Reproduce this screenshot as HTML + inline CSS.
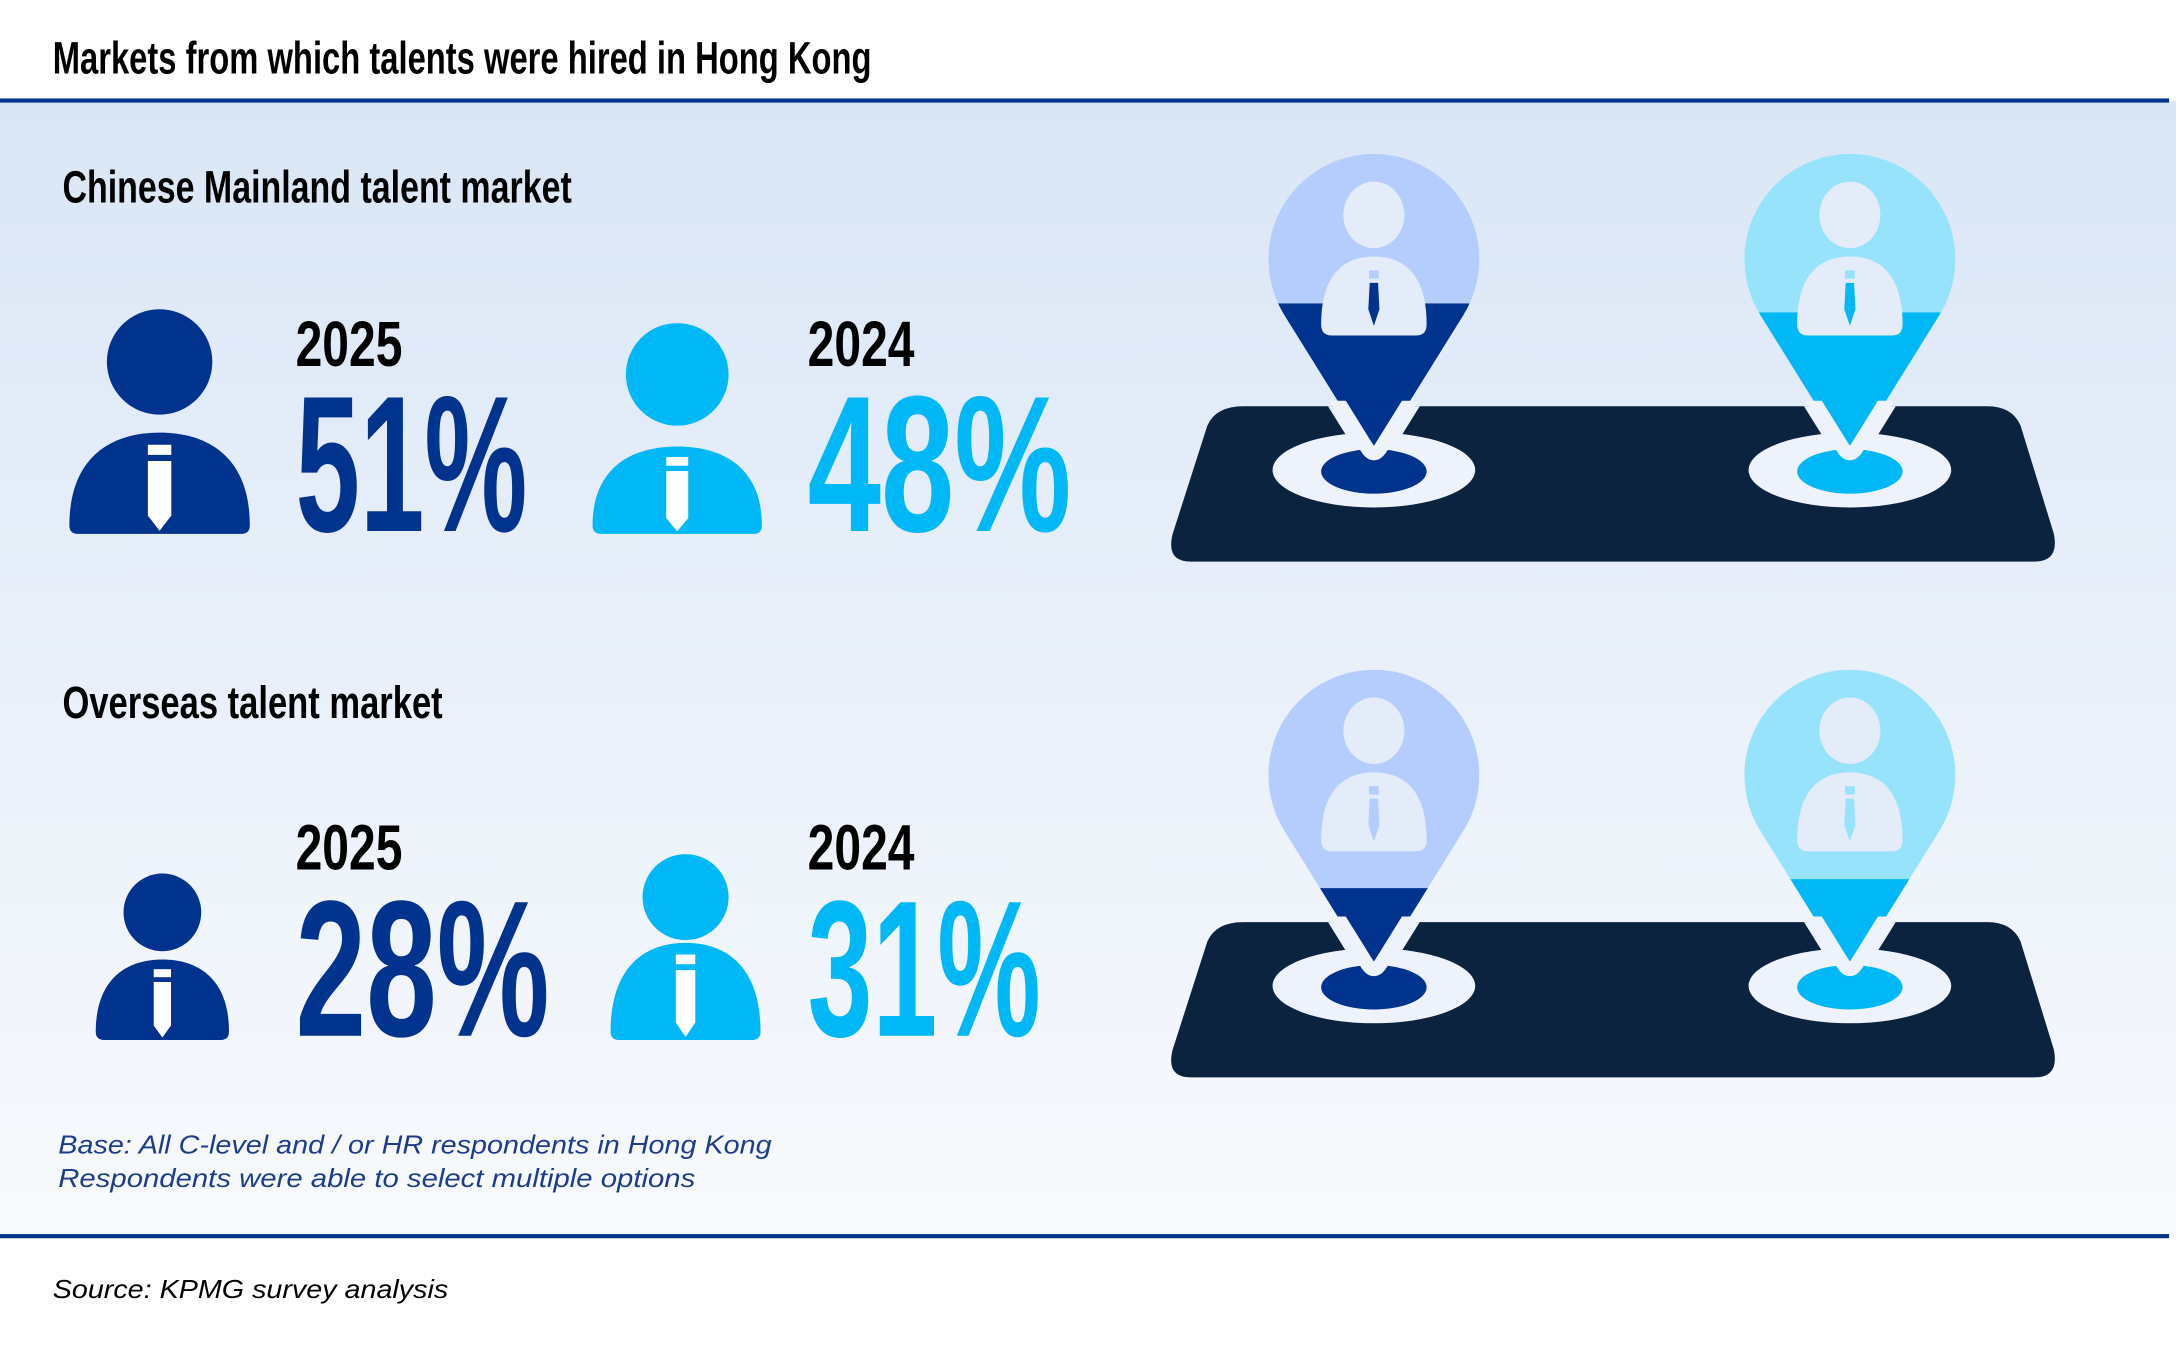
<!DOCTYPE html>
<html><head><meta charset="utf-8"><style>
html,body{margin:0;padding:0;background:#fff;}
svg{display:block;}
text{font-family:"Liberation Sans Narrow","Liberation Sans",sans-serif;font-weight:bold;}
.it{font-family:"Liberation Sans",sans-serif;font-style:italic;font-weight:normal;}
</style></head><body>
<svg id="chart" width="2176" height="1345" viewBox="0 0 1568 970" preserveAspectRatio="none" xmlns="http://www.w3.org/2000/svg">
<defs>
<linearGradient id="bg" x1="0" y1="0" x2="0" y2="1">
<stop offset="0" stop-color="#dae6f6"/><stop offset="1" stop-color="#f8fafd"/>
</linearGradient>
</defs>
<rect x="0" y="73" width="1568" height="818" fill="url(#bg)"/>
<text x="38" y="53" font-size="33" textLength="590" lengthAdjust="spacingAndGlyphs" fill="#000">Markets from which talents were hired in Hong Kong</text>
<rect x="0" y="71" width="1563" height="3" fill="#00338d"/>
<rect x="0" y="890" width="1563" height="3" fill="#00338d"/>
<text class="it" x="42" y="832" font-size="18.5" textLength="514" lengthAdjust="spacingAndGlyphs" fill="#1e3c8c">Base: All C-level and / or HR respondents in Hong Kong</text>
<text class="it" x="42" y="856" font-size="18.5" textLength="459" lengthAdjust="spacingAndGlyphs" fill="#1e3c8c">Respondents were able to select multiple options</text>
<text class="it" x="38" y="936" font-size="18.5" textLength="285" lengthAdjust="spacingAndGlyphs" fill="#000">Source: KPMG survey analysis</text>
<g id="content"></g>
</svg>
<script>
const markets = ["Chinese Mainland talent market", "Overseas talent market"];
const years = ["2025", "2024"];
const values2025 = [51, 28];
const values2024 = [48, 31];

const NS = "http://www.w3.org/2000/svg";
const root = document.getElementById("content");
function mk(tag, attrs, parent) {
  const e = document.createElementNS(NS, tag);
  for (const k in attrs) e.setAttribute(k, attrs[k]);
  (parent || root).appendChild(e);
  return e;
}
const dark = "#00338d", cyan = "#00b8f5";
const lightDark = "#b5cdfc", lightCyan = "#96e3fb";
const titleW = [367, 274];

function person(g, cx, headCy, headR, top, bot, w, color) {
  const h = mk("circle", {cx: cx, cy: headCy, r: headR, fill: color}, g);
  
  
  const hh = bot - top;
  const b = mk("path", {d: `M${cx-w},${bot-6} C${cx-w},${top+hh*0.25} ${cx-w*0.55},${top} ${cx},${top} C${cx+w*0.55},${top} ${cx+w},${top+hh*0.25} ${cx+w},${bot-6} Q${cx+w},${bot} ${cx+w-6},${bot} L${cx-w+6},${bot} Q${cx-w},${bot} ${cx-w},${bot-6} Z`, fill: color}, g);
  
  
  const tw = w * 0.13;
  const t1 = mk("rect", {x: cx - tw, y: top + hh*0.12, width: tw*2, height: hh*0.1, fill: "#fff"}, g);
  
  
  const t2 = mk("path", {d: `M${cx-tw},${top+hh*0.28} L${cx+tw},${top+hh*0.28} L${cx+tw},${top+hh*0.82} L${cx},${top+hh*0.97} L${cx-tw},${top+hh*0.82} Z`, fill: "#fff"}, g);
  
  
}

function pinPath(cx, cy, r, tipY) {
  const d = tipY - cy, a = Math.asin(r / d);
  const ox = r * Math.cos(a), oy = r * Math.sin(a);
  return `M${cx-ox},${cy+oy} A${r} ${r} 0 1 1 ${cx+ox},${cy+oy} L${cx+5},${tipY-6} Q${cx},${tipY+2} ${cx-5},${tipY-6} Z`;
}

function pin(g, cx, top, value, lightC, darkC, id, platTop) {
  const r = 76, cy = top + 76, tip = top + 218, H = 216;
  const p = pinPath(cx, cy, r, tip);
  const cpo = mk("clipPath", {id: id + "o"}, g);
  mk("rect", {x: cx - 100, y: platTop, width: 200, height: 200}, cpo);
  const og = mk("g", {"clip-path": `url(#${id}o)`}, g);
  const outline = mk("path", {d: p, fill: "#eef3fb", stroke: "#eef3fb", "stroke-width": 16, "stroke-linejoin": "round"}, og);
  
  
  const cp = mk("clipPath", {id: id}, g);
  mk("path", {d: p}, cp);
  const cg = mk("g", {"clip-path": `url(#${id})`}, g);
  const bgR = mk("rect", {x: cx - 90, y: top - 5, width: 180, height: 240, fill: lightC}, cg);
  
  
  const level = tip - H * value / 100;
  const fill = mk("rect", {x: cx - 90, y: level, width: 180, height: tip - level + 10, fill: darkC}, cg);
  
  
  const pg = mk("g", {}, g);
  
  
  const head = mk("ellipse", {cx: cx, cy: top + 44, rx: 22, ry: 24, fill: "#e3ecf8"}, pg);
  
  
  const bt = top + 74, bb = top + 131, w = 38;
  const body = mk("path", {d: `M${cx-w},${bb-8} C${cx-w},${bt+10} ${cx-w*0.5},${bt} ${cx},${bt} C${cx+w*0.5},${bt} ${cx+w},${bt+10} ${cx+w},${bb-8} Q${cx+w},${bb} ${cx+w-8},${bb} L${cx-w+8},${bb} Q${cx-w},${bb} ${cx-w},${bb-8} Z`, fill: "#e3ecf8"}, pg);
  
  
  const tieC = level < bt + 45 ? darkC : lightC;
  const tk = mk("rect", {x: cx - 3.5, y: bt + 10, width: 7, height: 6, fill: lightC}, pg);
  
  
  const tt = mk("path", {d: `M${cx-3},${bt+19} L${cx+3},${bt+19} L${cx+4},${bt+38} L${cx},${bt+50} L${cx-4},${bt+38} Z`, fill: tieC}, pg);
  
  
  const e1 = mk("ellipse", {cx: cx, cy: tip + 10, rx: 73, ry: 27, fill: "#eef3fb"}, g);
  
  
  const e2 = mk("ellipse", {cx: cx, cy: tip + 11, rx: 38, ry: 16, fill: darkC}, g);
  
  
  const cp2 = mk("clipPath", {id: id + "b"}, g);
  mk("rect", {x: cx - 90, y: tip - 40, width: 180, height: 60}, cp2);
  const tg = mk("g", {"clip-path": `url(#${id}b)`}, g);
  const tipO = mk("path", {d: p, fill: darkC, stroke: "#eef3fb", "stroke-width": 10, "stroke-linejoin": "round"}, tg);
  
  
}

markets.forEach((m, i) => {
  const dy = i * 372;
  const g = mk("g", {});
  
  
  const t = mk("text", {x: 45, y: 146 + dy, "font-size": 33, textLength: titleW[i], lengthAdjust: "spacingAndGlyphs", fill: "#000"}, g);
  t.textContent = m;
  
  

  if (i === 0) {
    person(g, 115, 261, 38, 312, 385, 65, dark);
    person(g, 488, 270, 37, 322, 385, 61, cyan);
  } else {
    person(g, 117, 658, 28, 692, 750, 48, dark);
    person(g, 494, 647, 31, 680, 750, 54, cyan);
  }
  const vals = [values2025[i], values2024[i]];
  const xs = [213, 582];
  const cols = [dark, cyan];
  years.forEach((y, j) => {
    const yt = mk("text", {x: xs[j], y: 264 + dy - (i ? 9 : 0), "font-size": 46, textLength: 77, lengthAdjust: "spacingAndGlyphs", fill: "#000"}, g);
    yt.textContent = y;
    
    
    const s = String(vals[j]) + "%";
    const wmap = {"51%": 167, "48%": 190, "28%": 183, "31%": 168};
    const vt = mk("text", {x: xs[j], y: 383 + dy - (i ? 8 : 0), "font-size": 140, textLength: wmap[s] || 180, lengthAdjust: "spacingAndGlyphs", fill: cols[j]}, g);
    vt.textContent = s;
    
    
  });

  const pt = 293 + dy, pb = 405 + dy;
  const plat = mk("path", {d: `M${896},${pt} L${1432},${pt} Q${1450},${pt} ${1456},${pt+14} L${1480},${pb-20} Q${1484},${pb} ${1466},${pb} L${858},${pb} Q${840},${pb} ${845},${pb-20} L${870},${pt+14} Q${876},${pt} ${896},${pt} Z`, fill: "#0c2340"}, g);
  
  
  pin(g, 990, 111 + dy, vals[0], lightDark, dark, "pa" + i, pt);
  pin(g, 1333, 111 + dy, vals[1], lightCyan, cyan, "pb" + i, pt);
});
</script>
</body></html>
